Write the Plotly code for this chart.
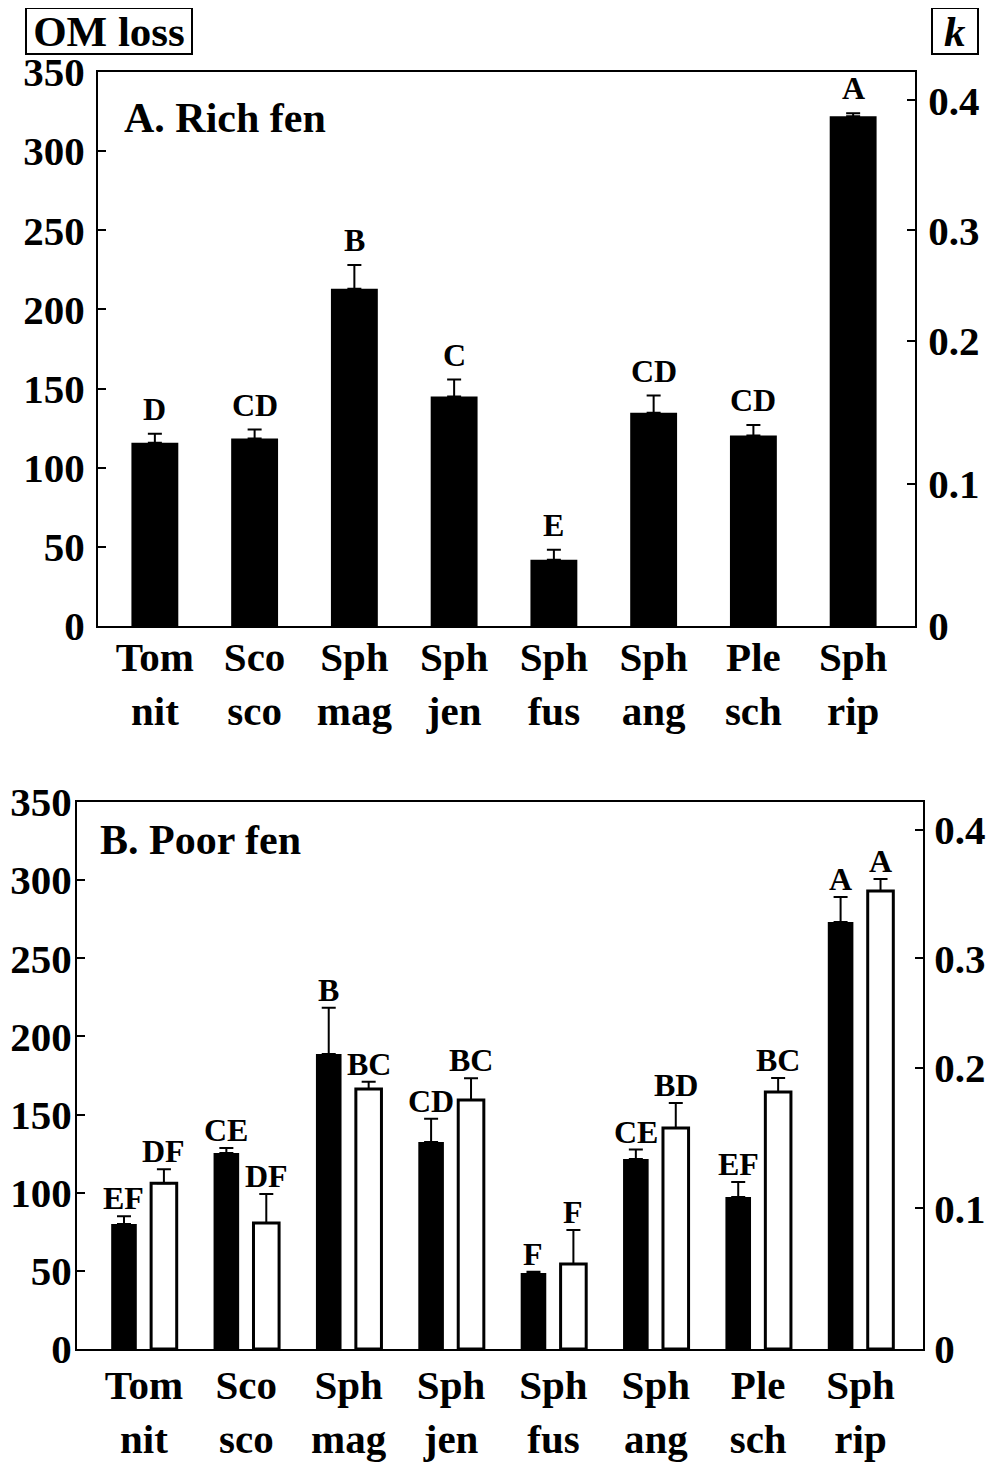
import plotly.graph_objects as go

# ---------------- data ----------------
species = ["Tom<br>nit", "Sco<br>sco", "Sph<br>mag", "Sph<br>jen",
           "Sph<br>fus", "Sph<br>ang", "Ple<br>sch", "Sph<br>rip"]

rich_loss = [115.8, 118.4, 213.0, 145.0, 41.8, 134.8, 120.3, 322.0]
rich_err = [5.7, 5.7, 15.0, 10.7, 6.3, 10.8, 6.7, 2.0]
rich_letters = ["D", "CD", "B", "C", "E", "CD", "CD", "A"]

poor_filled_loss = [80.0, 125.4, 188.7, 132.4, 48.6, 121.6, 97.3, 273.2]
poor_filled_err = [5.0, 3.2, 29.6, 14.9, 0.8, 6.0, 9.6, 16.0]
poor_filled_letters = ["EF", "CE", "B", "CD", "F", "CE", "EF", "A"]

poor_open_loss = [106.0, 80.6, 166.3, 159.3, 54.4, 141.4, 164.4, 293.0]
poor_open_err = [9.0, 18.6, 4.7, 14.0, 21.8, 16.0, 9.0, 7.7]
poor_open_letters = ["DF", "DF", "BC", "BC", "F", "BD", "BC", "A"]

om_ticks = [0, 50, 100, 150, 200, 250, 300, 350]
k_ticktext = ["0", "0.1", "0.2", "0.3", "0.4"]
k_tickpos = [0, 90, 180, 250, 332]   # position of k ticks on the OM-loss scale

# ---------------- styling ----------------
FONT = "Liberation Serif"
W, H = 995, 1465
OFF = 8  # page body margin
FW, FH = W - OFF, H - OFF
xi = list(range(len(species)))

def px_x(p):
    return (p - OFF) / FW

def px_y(p):
    return 1 - (p - OFF) / FH

tickfont = dict(family=FONT, size=41, color="black", weight="bold")

fig = go.Figure()

err_style = dict(type="data", symmetric=False, color="black", thickness=2, width=7)

# Panel A
fig.add_trace(go.Bar(
    x=xi, y=rich_loss, width=0.47,
    marker=dict(color="black", line=dict(width=0)),
    error_y=dict(array=rich_err, arrayminus=[0] * len(xi), **err_style),
    xaxis="x", yaxis="y", showlegend=False))

# Panel B
fw, fo, oo = 0.25, -0.32, 0.07
fig.add_trace(go.Bar(
    x=xi, y=poor_filled_loss, width=fw, offset=fo,
    marker=dict(color="black", line=dict(width=0)),
    error_y=dict(array=poor_filled_err, arrayminus=[0] * len(xi), **err_style),
    xaxis="x2", yaxis="y2", showlegend=False))
fig.add_trace(go.Bar(
    x=xi, y=poor_open_loss, width=fw, offset=oo,
    marker=dict(color="white", line=dict(width=3, color="black")),
    error_y=dict(array=poor_open_err, arrayminus=[0] * len(xi), **err_style),
    xaxis="x2", yaxis="y2", showlegend=False))

# invisible traces to activate right (k) axes
fig.add_trace(go.Scatter(x=[0], y=[0], mode="markers", marker=dict(opacity=0),
                         xaxis="x", yaxis="y3", showlegend=False, hoverinfo="skip"))
fig.add_trace(go.Scatter(x=[0], y=[0], mode="markers", marker=dict(opacity=0),
                         xaxis="x2", yaxis="y4", showlegend=False, hoverinfo="skip"))

annotations = []
letter_font = dict(family=FONT, size=32, color="black", weight="bold")
for i in xi:
    annotations.append(dict(x=i, y=rich_loss[i] + rich_err[i], xref="x", yref="y",
                            text=rich_letters[i], showarrow=False, yanchor="bottom",
                            font=letter_font, yshift=5))
    annotations.append(dict(x=i + fo + fw / 2, y=poor_filled_loss[i] + poor_filled_err[i],
                            xref="x2", yref="y2", text=poor_filled_letters[i],
                            showarrow=False, yanchor="bottom", font=letter_font, yshift=-2))
    annotations.append(dict(x=i + oo + fw / 2, y=poor_open_loss[i] + poor_open_err[i],
                            xref="x2", yref="y2", text=poor_open_letters[i],
                            showarrow=False, yanchor="bottom", font=letter_font, yshift=-2))

annotations += [
    dict(x=px_x(122), y=px_y(118), xref="paper", yref="paper", text="A. Rich fen",
         showarrow=False, xanchor="left", yanchor="middle",
         font=dict(family=FONT, size=42, color="black", weight="bold")),
    dict(x=px_x(98), y=px_y(840), xref="paper", yref="paper", text="B. Poor fen",
         showarrow=False, xanchor="left", yanchor="middle",
         font=dict(family=FONT, size=42, color="black", weight="bold")),
    dict(x=px_x(109), y=px_y(31), xref="paper", yref="paper", text="OM loss",
         showarrow=False, xanchor="center", yanchor="middle",
         bordercolor="black", borderwidth=2, borderpad=2, width=160, height=40,
         font=dict(family=FONT, size=43, color="black", weight="bold")),
    dict(x=px_x(955), y=px_y(31), xref="paper", yref="paper", text="<i>k</i>",
         showarrow=False, xanchor="center", yanchor="middle",
         bordercolor="black", borderwidth=2, borderpad=2, width=40, height=40,
         font=dict(family=FONT, size=43, color="black", weight="bold")),
]

xcommon = dict(showline=True, linewidth=2, linecolor="black", mirror=True,
               ticks="", showgrid=False, zeroline=False, tickvals=xi,
               ticktext=species, tickfont=tickfont, automargin=False)
ycommon = dict(showline=True, linewidth=2, linecolor="black", range=[0, 350],
               ticks="inside", ticklen=8, tickwidth=2, tickcolor="black",
               showgrid=False, zeroline=False, tickfont=tickfont,
               automargin=False)

fig.update_layout(
    width=FW, height=FH, autosize=False,
    margin=dict(l=0, r=0, t=0, b=0, pad=0, autoexpand=False),
    paper_bgcolor="white", plot_bgcolor="white",
    barmode="overlay", showlegend=False,
    xaxis=dict(domain=[px_x(98), px_x(915)], anchor="y", range=[-0.57, 7.62],
               ticklabelstandoff=-6, **xcommon),
    yaxis=dict(domain=[px_y(626), px_y(72)], anchor="x", tickvals=om_ticks,
               ticklabelstandoff=3, **ycommon),
    yaxis3=dict(overlaying="y", anchor="x", side="right", tickvals=k_tickpos,
                ticktext=k_ticktext, ticklabelstandoff=3, **ycommon),
    xaxis2=dict(domain=[px_x(77), px_x(923)], anchor="y2", range=[-0.654, 7.61],
                ticklabelstandoff=-1, **xcommon),
    yaxis2=dict(domain=[px_y(1349), px_y(802)], anchor="x2", tickvals=om_ticks,
                ticklabelstandoff=-5, **ycommon),
    yaxis4=dict(overlaying="y2", anchor="x2", side="right", tickvals=k_tickpos,
                ticktext=k_ticktext, ticklabelstandoff=1, **ycommon),
    annotations=annotations,
)

fig.write_html("out.html")
